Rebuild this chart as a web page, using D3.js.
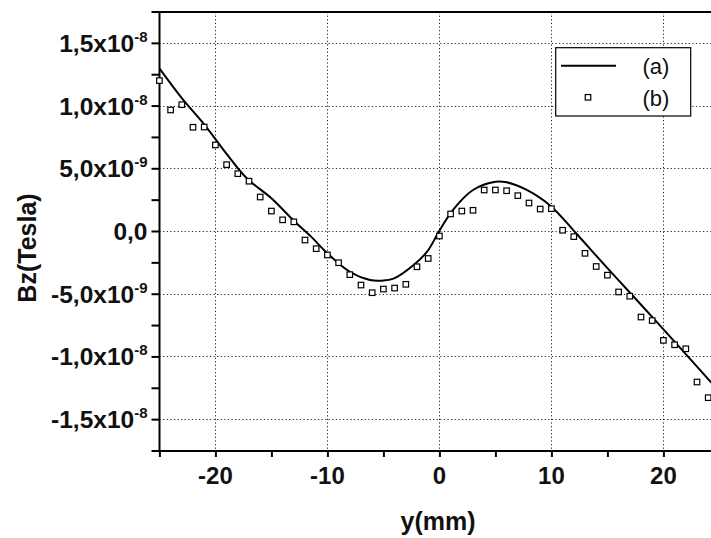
<!DOCTYPE html>
<html><head><meta charset="utf-8">
<script src="https://cdn.jsdelivr.net/npm/d3@7"></script>
<style>
html,body{margin:0;padding:0;background:#fff;}
svg{display:block;}
text{font-family:"Liberation Sans",Arial,Helvetica,sans-serif;}
</style></head>
<body><svg id="chart" width="711" height="538"></svg>
<script>
// Units: x in mm, Bz in 1e-9 Tesla
const curveX = [-25, -23, -21, -19, -17.2, -15, -13, -11.5, -10, -8, -6.2, -5.1, -4.1, -2.3, -1.1, 0, 1.2, 3, 5, 6, 7.8, 10, 12.1, 14.9, 17, 19.4, 24.3];
const curveY = [12.97, 10.6, 8.5, 6.15, 4.2, 2.61, 0.82, -0.41, -1.78, -3.25, -3.91, -3.96, -3.8, -2.71, -1.65, 0.02, 1.67, 3.27, 3.93, 3.88, 3.27, 1.94, -0.08, -2.86, -4.9, -7.25, -12.1];
const pointX = [-25,-24,-23,-22,-21,-20,-19,-18,-17,-16,-15,-14,-13,-12,-11,-10,-9,-8,-7,-6,-5,-4,-3,-2,-1,0,1,2,3,4,5,6,7,8,9,10,11,12,13,14,15,16,17,18,19,20,21,22,23,24];
const pointY = [11.99,9.65,10.07,8.27,8.29,6.86,5.29,4.57,3.97,2.71,1.59,0.89,0.73,-0.72,-1.41,-1.91,-2.53,-3.48,-4.31,-4.92,-4.63,-4.55,-4.25,-2.85,-2.19,-0.40,1.36,1.59,1.65,3.27,3.27,3.21,2.82,2.23,1.75,1.78,0.06,-0.45,-1.78,-2.83,-3.52,-4.86,-5.20,-6.86,-7.14,-8.72,-9.07,-9.39,-12.04,-13.29];
const xTicks = [-20, -10, 0, 10, 20];
const xMinorTicks = [-25, -20, -15, -10, -5, 0, 5, 10, 15, 20];
const yTicks = [-15, -10, -5, 0, 5, 10, 15];
const yMinorTicks = [-17.5, -15, -12.5, -10, -7.5, -5, -2.5, 0, 2.5, 5, 7.5, 10, 12.5, 15, 17.5];
const yTickMantissa = ["-1,5x10", "-1,0x10", "-5,0x10", "0,0", "5,0x10", "1,0x10", "1,5x10"];
const yTickExponent = ["-8", "-8", "-9", "", "-9", "-8", "-8"];
const seriesNames = ["(a)", "(b)"];
const xTitle = "y(mm)";
const yTitle = "Bz(Tesla)";

const svg = d3.select("#chart");
const L = 159.5, T = 12, B = 451, R = 711;
const x = d3.scaleLinear().domain([-25, 24.25]).range([159.4, 711]);
const y = d3.scaleLinear().domain([-17.54, 17.46]).range([B, T]);

svg.append("defs").append("clipPath").attr("id", "clip")
  .append("rect").attr("x", L).attr("y", T).attr("width", R - L).attr("height", B - T);

// grid
const grid = svg.append("g").attr("stroke", "#222").attr("stroke-width", 1).attr("stroke-dasharray", "1.2,2.4");
grid.selectAll("line.v").data(xTicks).join("line")
  .attr("x1", d => Math.round(x(d)) + 0.5).attr("x2", d => Math.round(x(d)) + 0.5)
  .attr("y1", T).attr("y2", B);
grid.selectAll("line.h").data(yTicks).join("line")
  .attr("y1", d => Math.round(y(d)) + 0.5).attr("y2", d => Math.round(y(d)) + 0.5)
  .attr("x1", L).attr("x2", R);

// axes
const xAxis = svg.append("g").attr("transform", `translate(0,${B})`)
  .call(d3.axisBottom(x).tickValues(xMinorTicks).tickSize(6).tickSizeOuter(0).tickFormat(""));
const yAxis = svg.append("g").attr("transform", `translate(${L},0)`)
  .call(d3.axisLeft(y).tickValues(yMinorTicks).tickSize(8).tickSizeOuter(0).tickFormat(""));
[xAxis, yAxis].forEach(a => {
  a.selectAll("path.domain").attr("stroke", "#000").attr("stroke-width", 2);
  a.selectAll(".tick line").attr("stroke", "#000").attr("stroke-width", 2);
});
xAxis.select("path.domain").attr("d", `M${L - 1},0H${R}`);
yAxis.select("path.domain").attr("d", `M0,${T}V${B + 1}`);

// top border
svg.append("line").attr("x1", L - 1).attr("x2", R).attr("y1", T).attr("y2", T)
  .attr("stroke", "#000").attr("stroke-width", 2.2);

// x tick labels
svg.append("g").selectAll("text").data(xTicks).join("text")
  .attr("x", d => x(d)).attr("y", 484)
  .attr("text-anchor", "middle").attr("font-size", 24).attr("font-weight", "bold")
  .attr("fill", "#111").text(d => d);

// y tick labels
const yl = svg.append("g").selectAll("text").data(yTicks).join("text")
  .attr("x", 147.5).attr("y", d => y(d) + 9)
  .attr("text-anchor", "end").attr("font-size", 24.5).attr("font-weight", "bold")
  .attr("fill", "#111");
yl.append("tspan").text((d, i) => yTickMantissa[i]);
yl.filter((d, i) => yTickExponent[i] !== "").append("tspan")
  .attr("font-size", 15).attr("dy", -10).text(d => yTickExponent[yTicks.indexOf(d)]);

// titles
svg.append("text").attr("x", 438).attr("y", 530).attr("text-anchor", "middle")
  .attr("font-size", 25).attr("font-weight", "bold").attr("fill", "#111").text(xTitle);
svg.append("text").attr("transform", "translate(36,248) rotate(-90)").attr("text-anchor", "middle")
  .attr("font-size", 25).attr("font-weight", "bold").attr("fill", "#111").text(yTitle);

// data
const plot = svg.append("g").attr("clip-path", "url(#clip)");
const curveData = curveX.map((d, i) => [d, curveY[i]]);
plot.append("path").datum(curveData)
  .attr("d", d3.line().x(d => x(d[0])).y(d => y(d[1])).curve(d3.curveCatmullRom.alpha(0.5)))
  .attr("fill", "none").attr("stroke", "#000").attr("stroke-width", 2);
const s = 5.5;
svg.append("g").selectAll("rect").data(pointX.map((d, i) => [d, pointY[i]])).join("rect")
  .attr("x", d => x(d[0]) - s / 2).attr("y", d => y(d[1]) - s / 2)
  .attr("width", s).attr("height", s)
  .attr("fill", "#fff").attr("stroke", "#000").attr("stroke-width", 1.2);

// legend
const lg = svg.append("g");
lg.append("rect").attr("x", 555.7).attr("y", 47.7).attr("width", 135).attr("height", 68.3)
  .attr("fill", "#fff").attr("stroke", "#000").attr("stroke-width", 1.2);
lg.append("line").attr("x1", 561).attr("x2", 616).attr("y1", 65.7).attr("y2", 65.7)
  .attr("stroke", "#000").attr("stroke-width", 2);
lg.append("rect").attr("x", 588 - s / 2).attr("y", 97.3 - s / 2).attr("width", s).attr("height", s)
  .attr("fill", "#fff").attr("stroke", "#000").attr("stroke-width", 1.2);
lg.selectAll("text.l").data(seriesNames).join("text")
  .attr("x", 642.5).attr("y", (d, i) => 74 + i * 32)
  .attr("font-size", 22).attr("fill", "#111").text(d => d);
</script></body></html>
